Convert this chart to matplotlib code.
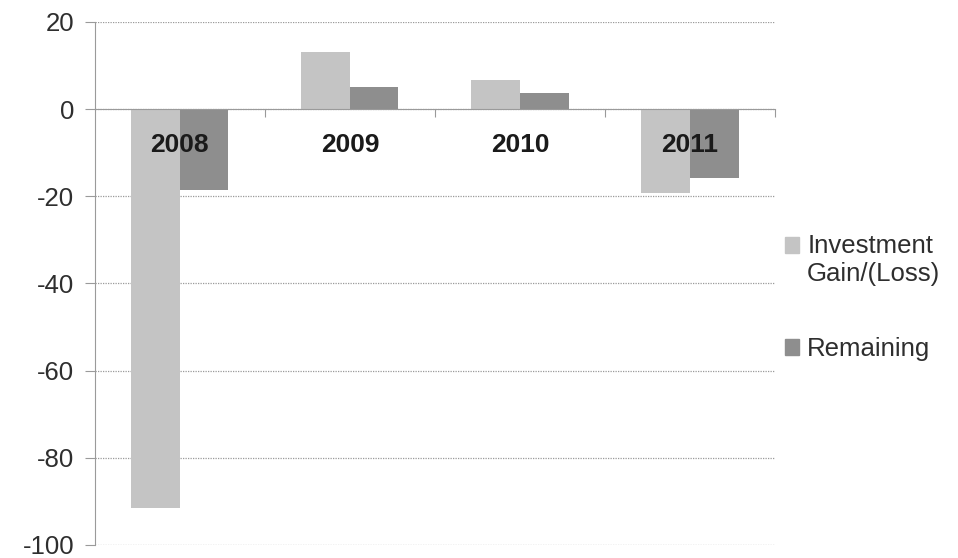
import matplotlib
matplotlib.use("Agg")
import matplotlib.pyplot as plt
import matplotlib.patches as mpatches
from matplotlib.legend_handler import HandlerPatch
import numpy as np

plt.rcParams['font.family'] = ['Liberation Sans', 'DejaVu Sans']

categories = ["2008", "2009", "2010", "2011"]
investment = [-91.5, 13.1, 6.6, -19.3]
remaining = [-18.6, 5.0, 3.7, -15.8]
series_names = ["Investment\nGain/(Loss)", "Remaining"]
yticks = [-100, -80, -60, -40, -20, 0, 20]

light = "#c4c4c4"
dark = "#8e8e8e"
txt = "#2e2e2e"
gridc = "#9a9a9a"

fig = plt.figure(figsize=(9.58, 5.58), dpi=100)
ax = fig.add_axes([0.099, 0.0233, 0.71, 0.9373])

x = np.arange(len(categories))
w = 1 / 3.5
ax.bar(x - w / 2, investment, w, color=light, edgecolor="none", zorder=3)
ax.bar(x + w / 2, remaining, w, color=dark, edgecolor="none", zorder=3)

ax.set_xlim(-0.5, len(categories) - 0.5)
ax.set_ylim(-100, 20)
ax.set_yticks(yticks)
ax.set_yticklabels([str(v) for v in yticks], fontsize=18.5, color=txt)
ax.tick_params(axis='y', length=7, color=gridc, pad=8)
ax.yaxis.grid(True, linestyle=(0, (1, 1)), color=gridc, linewidth=0.9, zorder=0)

ax.spines['top'].set_visible(False)
ax.spines['right'].set_visible(False)
ax.spines['left'].set_linestyle((0, (1, 1)))
ax.spines['left'].set_color(gridc)
ax.spines['bottom'].set_position(('data', 0))
ax.spines['bottom'].set_linestyle((0, (1, 1)))
ax.spines['bottom'].set_color(gridc)
ax.spines['bottom'].set_zorder(4)

ax.set_xticks(np.arange(len(categories)) + 0.5)
ax.set_xticklabels([])
ax.tick_params(axis='x', length=6, color=gridc, direction='out')

for i, c in enumerate(categories):
    ax.text(i, -8.3, c, ha='center', va='center', fontsize=19,
            fontweight='bold', color="#1a1a1a", zorder=5)


def raised_patch(legend, orig_handle, xdescent, ydescent, width, height, fontsize):
    return mpatches.Rectangle((-xdescent, -ydescent + 0.6 * fontsize), width, height)


h1 = mpatches.Patch(color=light)
h2 = mpatches.Patch(color=dark)
leg = fig.legend([h1, h2], series_names, loc='upper left',
                 bbox_to_anchor=(0.801, 0.613), frameon=False, fontsize=18.5,
                 handlelength=0.55, handleheight=0.55, handletextpad=0.3,
                 labelspacing=2.0, labelcolor=txt, borderpad=0.2,
                 handler_map={h1: HandlerPatch(patch_func=raised_patch)})
for t in leg.get_texts():
    t.set_multialignment('left')

fig.savefig("out.png", dpi=100, facecolor="white")
